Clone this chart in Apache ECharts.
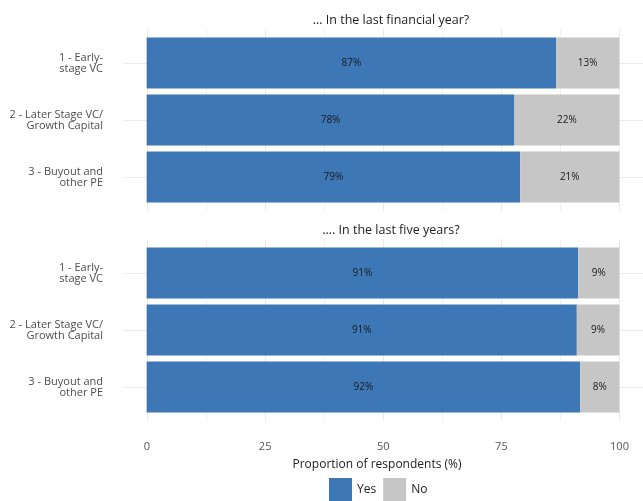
<!DOCTYPE html>
<html>
<head>
<meta charset="utf-8">
<script src="https://cdn.jsdelivr.net/npm/echarts@6/dist/echarts.min.js"></script>
<style>html,body{margin:0;padding:0;background:#fff}#c{width:643px;height:501px}</style>
</head>
<body>
<div id="c"></div>
<script>
const categories = ['1 - Early-\nstage VC', '2 - Later Stage VC/\nGrowth Capital', '3 - Buyout and\nother PE'];
const panelTitles = ['\u2026 In the last financial year?', '\u2026. In the last five years?'];
const yesFinancial = [86.6, 77.8, 79.0];
const noFinancial = [13.4, 22.2, 21.0];
const yesFive = [91.3, 91.0, 91.7];
const noFive = [8.7, 9.0, 8.3];
const xTicks = [0, 25, 50, 75, 100];
const axisTitle = 'Proportion of respondents (%)';
const legendNames = ['Yes', 'No'];

const FONT = '"Liberation Sans Narrow", "Open Sans", sans-serif';
const BLUE = '#3E77B6', GREY = '#C6C6C6', GRID = '#EAEAEA';
const panels = [
  {top: 29, yes: yesFinancial, no: noFinancial},
  {top: 239, yes: yesFive, no: noFive}
];

const grid = [], xAxis = [], yAxis = [], series = [], title = [];
panels.forEach((p, i) => {
  grid.push({left: 147, right: 23.5, top: p.top, height: 182});
  xAxis.push({
    type: 'value', gridIndex: 2 * i, min: 0, max: 100, interval: 12.5,
    axisLine: {show: false}, axisTick: {show: false},
    splitLine: {show: true, lineStyle: {color: [GRID, '#F1F1F1'], width: 1}},
    axisLabel: {
      show: i === 1, margin: 20, color: '#555', fontFamily: FONT, fontSize: 11,
      formatter: v => xTicks.indexOf(v) >= 0 ? String(v) : ''
    }
  });
  yAxis.push({type: 'value', gridIndex: 2 * i, show: false, min: 0, max: 1});
  grid.push({left: 123, right: 0, top: p.top + 34, height: 114});
  xAxis.push({type: 'value', gridIndex: 2 * i + 1, min: -5, max: 105, show: false, splitLine: {show: false}});
  yAxis.push({
    type: 'category', gridIndex: 2 * i + 1, data: categories, inverse: true, boundaryGap: false,
    axisLine: {show: false}, axisTick: {show: false},
    splitLine: {show: true, lineStyle: {color: GRID, width: 1}},
    axisLabel: {margin: 20, color: '#4D4D4D', fontFamily: FONT, fontSize: 11, lineHeight: 11, align: 'right'}
  });
  const lbl = {show: true, position: 'inside', color: '#1A1A1A', fontFamily: FONT, fontSize: 10,
    formatter: d => Math.round(d.value) + '%'};
  series.push({
    name: legendNames[0], type: 'bar', stack: 's' + i, xAxisIndex: 2 * i + 1, yAxisIndex: 2 * i + 1,
    data: p.yes, barWidth: 51, clip: false, itemStyle: {color: BLUE}, label: lbl, z: 3
  });
  series.push({
    name: legendNames[1], type: 'bar', stack: 's' + i, xAxisIndex: 2 * i + 1, yAxisIndex: 2 * i + 1,
    data: p.no, barWidth: 51, clip: false, itemStyle: {color: GREY}, label: lbl, z: 3
  });
  title.push({
    text: panelTitles[i], left: 386, top: p.top - 20, textAlign: 'center',
    textStyle: {fontFamily: FONT, fontSize: 12.5, fontWeight: 'normal', color: '#222'}
  });
});
title.push({
  text: axisTitle, left: 372, top: 454, textAlign: 'center',
  textStyle: {fontFamily: FONT, fontSize: 12, fontWeight: 'normal', color: '#222'}
});

const chart = echarts.init(document.getElementById('c'), null, {renderer: 'canvas'});
chart.setOption({
  animation: false,
  backgroundColor: '#fff',
  title: title,
  grid: grid, xAxis: xAxis, yAxis: yAxis, series: series,
  legend: {
    data: legendNames, left: 324, top: 473, itemWidth: 23, itemHeight: 23, itemGap: 7,
    icon: 'rect', selectedMode: false,
    textStyle: {fontFamily: FONT, fontSize: 12, color: '#222', padding: [0, 0, 0, 0]}
  }
});
</script>
</body>
</html>
